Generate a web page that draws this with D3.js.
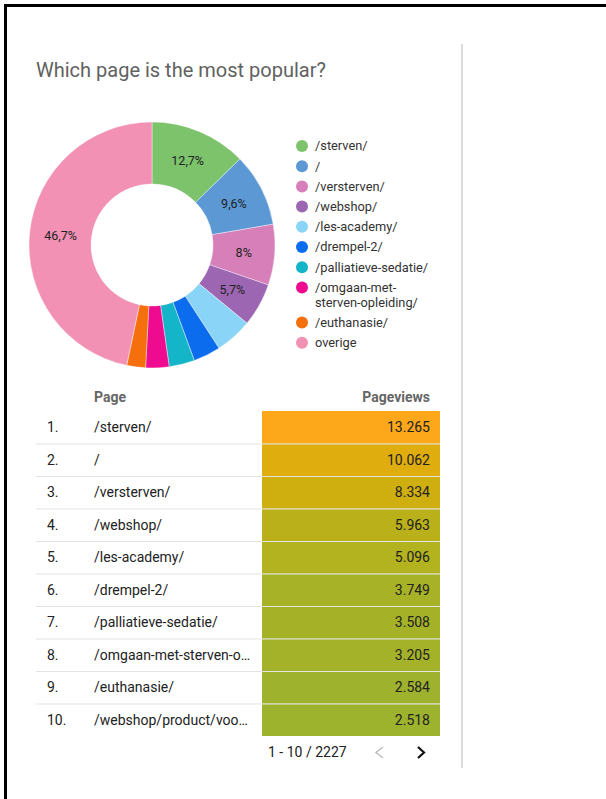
<!DOCTYPE html>
<html>
<head>
<meta charset="utf-8">
<script src="https://cdn.jsdelivr.net/npm/d3@7"></script>
<style>
  html, body { margin: 0; padding: 0; background: #fff; }
  svg { display: block; font-family: Roboto, "Noto Sans", sans-serif; }
</style>
</head>
<body>
<div id="chart"></div>
<script>
// data
const sliceLabels = ["/sterven/", "/", "/versterven/", "/webshop/", "/les-academy/", "/drempel-2/",
  "/palliatieve-sedatie/", "/omgaan-met-sterven-opleiding/", "/euthanasie/", "overige"];
const sliceValues = [13265, 10062, 8334, 5963, 5096, 3749, 3508, 3205, 2584, 48860];
const sliceColors = ["#7cc36c", "#5b98d4", "#d67fb8", "#9c66b2", "#8ad4f7", "#0b6cee",
  "#14b5c9", "#ee0b8f", "#f56f0c", "#f291b4"];

const pages = ["/sterven/", "/", "/versterven/", "/webshop/", "/les-academy/", "/drempel-2/",
  "/palliatieve-sedatie/", "/omgaan-met-sterven-o…", "/euthanasie/", "/webshop/product/voo…"];
const pageviews = [13265, 10062, 8334, 5963, 5096, 3749, 3508, 3205, 2584, 2518];
const totalRows = 2227;

const width = 606, height = 799;
const nl = d3.formatLocale({ decimal: ",", thousands: ".", grouping: [3], currency: ["€", ""] });
const fmtNum = nl.format(",d");
const fmtPct = nl.format(".1~f");

const svg = d3.select("#chart").append("svg")
  .attr("width", width)
  .attr("height", height);

// frame
svg.append("rect").attr("x", 4).attr("y", 4).attr("width", 3).attr("height", height - 4).attr("fill", "#000");
svg.append("rect").attr("x", 4).attr("y", 4).attr("width", width - 4).attr("height", 3).attr("fill", "#000");
svg.append("rect").attr("x", 461).attr("y", 44).attr("width", 2).attr("height", 724).attr("fill", "#dcdcdc");

// title
svg.append("text")
  .attr("x", 36).attr("y", 77)
  .attr("fill", "#616161")
  .style("font-size", "20px")
  .text("Which page is the most popular?");

// donut
const cx = 152, cy = 245, outerR = 123, innerR = 61;
const total = d3.sum(sliceValues);
const pie = d3.pie().sort(null).value(d => d.value);
const arc = d3.arc().innerRadius(innerR).outerRadius(outerR);
const slices = pie(sliceValues.map((v, i) => ({ value: v, label: sliceLabels[i], color: sliceColors[i] })));

const donut = svg.append("g").attr("transform", `translate(${cx},${cy})`);
donut.selectAll("path")
  .data(slices)
  .enter()
  .append("path")
  .attr("d", arc)
  .attr("fill", d => d.data.color)
  .attr("stroke", "#fff")
  .attr("stroke-width", 0.4);

donut.selectAll(".pie-label")
  .data(slices.filter(d => d.data.value / total > 0.05))
  .enter()
  .append("text")
  .attr("class", "pie-label")
  .attr("transform", d => `translate(${arc.centroid(d)})`)
  .attr("text-anchor", "middle")
  .attr("dy", "0.35em")
  .attr("fill", "#222")
  .style("font-size", "12.5px")
  .text(d => fmtPct(d.data.value / total * 100) + "%");

// legend
const legend = svg.append("g").attr("transform", "translate(302,146)");
let ly = 0;
sliceLabels.forEach((lab, i) => {
  const row = legend.append("g").attr("transform", `translate(0,${ly})`);
  row.append("circle").attr("r", 6).attr("fill", sliceColors[i]);
  const t = row.append("text")
    .attr("x", 13).attr("dy", "0.35em")
    .attr("fill", "#333")
    .style("font-size", "12.8px");
  // wrap on hyphens when too wide
  const parts = lab.split(/(?<=-)/);
  let lines = [], cur = "";
  const tmp = row.append("text").style("font-size", "12.8px").attr("visibility", "hidden");
  parts.forEach(p => {
    tmp.text(cur + p);
    if (cur && tmp.node().getComputedTextLength() > 116) { lines.push(cur); cur = p; }
    else cur += p;
  });
  lines.push(cur);
  tmp.remove();
  lines.forEach((l, j) => {
    t.append("tspan").attr("x", 13).attr("dy", j === 0 ? "0.35em" : "15").text(l);
  });
  ly += 20.2 + (lines.length - 1) * 15;
});

// table
const y = d3.scaleBand().domain(d3.range(pages.length)).range([411, 736]);
const heat = d3.scaleLinear()
  .domain([d3.min(pageviews), d3.max(pageviews)])
  .range(["#9db22d", "#fda71a"])
  .interpolate(d3.interpolateHcl);

svg.append("text").attr("x", 94).attr("y", 402)
  .attr("fill", "#666").style("font-size", "14px").style("font-weight", "bold")
  .text("Page");
svg.append("text").attr("x", 430).attr("y", 402).attr("text-anchor", "end")
  .attr("fill", "#666").style("font-size", "14px").style("font-weight", "bold")
  .text("Pageviews");

const rows = svg.selectAll(".row")
  .data(pages.map((p, i) => ({ page: p, views: pageviews[i], i })))
  .enter()
  .append("g")
  .attr("class", "row")
  .attr("transform", d => `translate(0,${y(d.i)})`);

rows.append("rect")
  .attr("x", 262).attr("width", 178)
  .attr("height", y.bandwidth())
  .attr("fill", d => heat(d.views));

rows.append("text")
  .attr("x", 47).attr("y", y.bandwidth() / 2).attr("dy", "0.35em")
  .attr("fill", "#222").style("font-size", "14px")
  .text(d => (d.i + 1) + ".");

rows.append("text")
  .attr("x", 94).attr("y", y.bandwidth() / 2).attr("dy", "0.35em")
  .attr("fill", "#222").style("font-size", "14px")
  .text(d => d.page);

rows.append("text")
  .attr("x", 430).attr("y", y.bandwidth() / 2).attr("dy", "0.35em")
  .attr("text-anchor", "end")
  .attr("fill", "#222").style("font-size", "14px")
  .text(d => fmtNum(d.views));

// row separators
svg.selectAll(".sep")
  .data(d3.range(1, pages.length))
  .enter()
  .append("line")
  .attr("x1", 36).attr("x2", 440)
  .attr("y1", d => y(d) + 0.5).attr("y2", d => y(d) + 0.5)
  .attr("stroke", "#e3e3e3")
  .attr("stroke-width", 1);

// pagination
svg.append("text").attr("x", 268).attr("y", 757)
  .attr("fill", "#222").style("font-size", "14px")
  .text(`1 - ${pages.length} / ${totalRows}`);
svg.append("path").attr("d", "M383,747 L376,752.5 L383,758")
  .attr("fill", "none").attr("stroke", "#bdbdbd").attr("stroke-width", 1.5);
svg.append("path").attr("d", "M418,747 L424,752.5 L418,758")
  .attr("fill", "none").attr("stroke", "#111").attr("stroke-width", 2.2);
</script>
</body>
</html>
